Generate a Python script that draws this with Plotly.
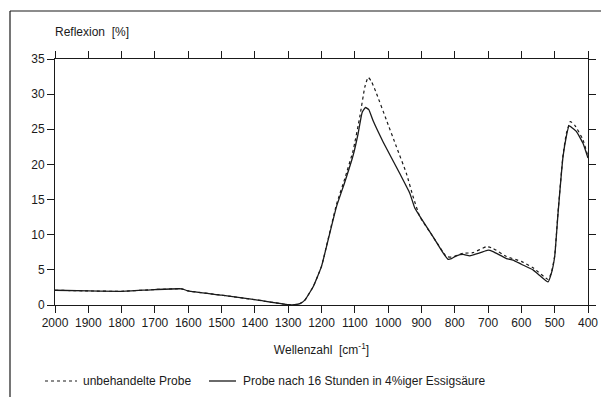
import plotly.graph_objects as go

# Wavenumbers [cm-1] and reflexion [%]
w_untreated = [2000, 1900, 1800, 1700, 1620, 1600, 1500, 1400, 1300, 1280, 1265, 1250, 1225, 1200,
               1185, 1155, 1130, 1105, 1085, 1070, 1060, 1050, 1035, 1005, 975, 945, 925, 905,
               865, 825, 810, 775, 745, 705, 685, 645, 600, 565, 520, 510, 500, 490, 475, 465,
               453, 440, 415, 400]
r_untreated = [2.1, 2.0, 1.95, 2.2, 2.3, 2.0, 1.4, 0.75, 0.05, 0.05, 0.2, 0.7, 2.6, 5.5,
               8.4, 14.3, 18.0, 22.0, 26.8, 31.0, 32.4, 31.8, 30.1, 26.3, 22.5, 18.7, 15.4, 12.6,
               9.7, 6.9, 6.8, 7.35, 7.45, 8.3, 8.05, 6.9, 6.2, 5.3, 3.65, 4.6, 7.0, 13.2, 21.3, 24.4,
               26.1, 25.6, 23.5, 21.1]

w_treated = [2000, 1900, 1800, 1700, 1620, 1600, 1500, 1400, 1300, 1280, 1265, 1250, 1225, 1200,
             1185, 1155, 1130, 1105, 1090, 1078, 1068, 1058, 1045, 1015, 965, 935, 920, 895,
             865, 835, 820, 810, 795, 775, 755, 725, 700, 685, 645, 625, 600, 565, 545, 520,
             510, 500, 490, 475, 465, 457, 450, 435, 415, 400]
r_treated = [2.1, 2.0, 1.95, 2.2, 2.3, 2.0, 1.4, 0.75, 0.05, 0.05, 0.2, 0.7, 2.6, 5.5,
             8.3, 14.0, 17.5, 21.3, 24.4, 27.4, 28.1, 27.8, 26.2, 23.2, 18.7, 15.9, 13.8, 11.9,
             9.7, 7.4, 6.5, 6.6, 7.0, 7.2, 7.0, 7.4, 7.8, 7.6, 6.6, 6.4, 5.8, 5.0, 4.2, 3.3,
             4.5, 6.9, 13.0, 21.1, 24.0, 25.5, 25.3, 24.7, 23.0, 20.9]

x_ticks = list(range(2000, 399, -100))
y_ticks = list(range(0, 36, 5))

names = ["unbehandelte Probe", "Probe nach 16 Stunden in 4%iger Essigsäure"]

FONT = "Liberation Sans, Arial, sans-serif"
INK = "#1a1a1a"

fig = go.Figure()
fig.add_trace(go.Scatter(x=w_untreated, y=r_untreated, mode="lines", name=names[0],
                         line=dict(color=INK, width=1.2, dash="dot", shape="spline", smoothing=0.4)))
fig.add_trace(go.Scatter(x=w_treated, y=r_treated, mode="lines", name=names[1],
                         line=dict(color=INK, width=1.3, shape="spline", smoothing=0.4)))

L, R, T, B = 55, 15, 59, 92
W, H = 603, 397
pw, ph = W - L - R, H - T - B

def px(xp):
    return (xp - L) / pw

def py(yp):
    return (H - B - yp) / ph

axis_common = dict(showgrid=False, zeroline=False, showline=True, linecolor=INK, linewidth=1,
                   mirror="ticks", ticks="outside", ticklen=7, tickwidth=1, tickcolor=INK,
                   tickfont=dict(family=FONT, size=12, color=INK))

LEG_Y = 381
annotations = [
    dict(text="Reflexion  [%]", xref="paper", yref="paper", x=px(53), y=py(32),
         xanchor="left", yanchor="middle", showarrow=False,
         font=dict(family=FONT, size=12, color=INK)),
    dict(text=names[0], xref="paper", yref="paper", x=px(81), y=py(LEG_Y),
         xanchor="left", yanchor="middle", showarrow=False,
         font=dict(family=FONT, size=12, color=INK)),
    dict(text=names[1], xref="paper", yref="paper", x=px(241), y=py(LEG_Y),
         xanchor="left", yanchor="middle", showarrow=False,
         font=dict(family=FONT, size=12, color=INK)),
]

shapes = [
    dict(type="line", xref="paper", yref="paper", x0=px(10), x1=px(601), y0=py(11), y1=py(11),
         line=dict(color=INK, width=1.2)),
    dict(type="line", xref="paper", yref="paper", x0=px(10), x1=px(10), y0=py(11), y1=py(398),
         line=dict(color=INK, width=1.2)),
    dict(type="line", xref="paper", yref="paper", x0=px(45), x1=px(77), y0=py(LEG_Y), y1=py(LEG_Y),
         line=dict(color=INK, width=1.2, dash="dot")),
    dict(type="line", xref="paper", yref="paper", x0=px(209), x1=px(236), y0=py(LEG_Y), y1=py(LEG_Y),
         line=dict(color=INK, width=1.3)),
]

fig.update_layout(
    width=W, height=H,
    margin=dict(l=L, r=R, t=T, b=B, autoexpand=False),
    paper_bgcolor="white", plot_bgcolor="white",
    font=dict(family=FONT, size=12, color=INK),
    xaxis=dict(range=[2000, 400], tickvals=x_ticks, ticktext=[str(v) for v in x_ticks],
               title=dict(text="Wellenzahl  [cm<sup>-1</sup>]", standoff=16,
                          font=dict(family=FONT, size=12, color=INK)),
               **axis_common),
    yaxis=dict(range=[0, 35], tickvals=y_ticks, **axis_common),
    showlegend=False,
    annotations=annotations,
    shapes=shapes,
)

fig.write_html("out.html")
